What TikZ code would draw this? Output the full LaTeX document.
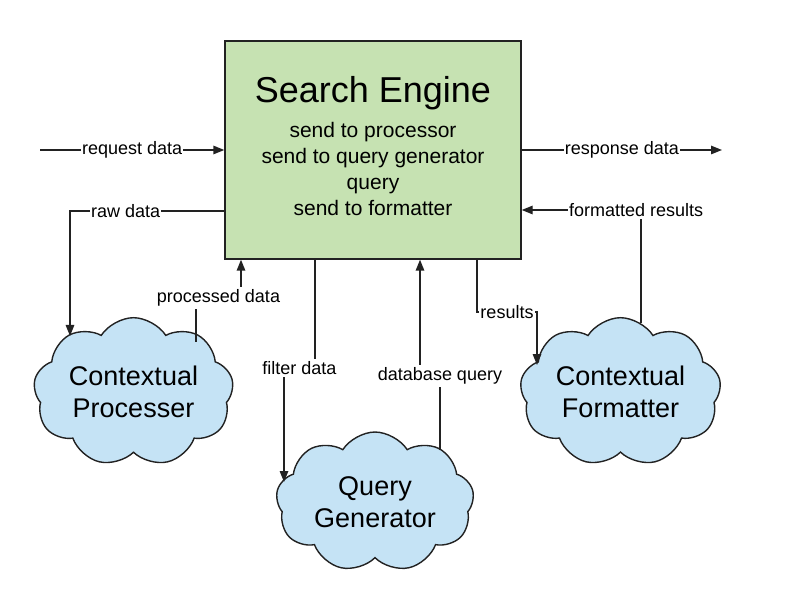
\documentclass[tikz,border=0pt]{standalone}
\usepackage{fontspec}
\setmainfont{Liberation Sans}
\usetikzlibrary{shapes.symbols,arrows.meta}
\definecolor{segreen}{HTML}{C6E2B2}
\definecolor{cloudblue}{HTML}{C5E3F5}
\definecolor{linegray}{HTML}{222222}
\begin{document}
\begin{tikzpicture}[x=1pt,y=-1pt,
  conn/.style={line width=1.4pt, draw=linegray},
  arr/.style={conn,-{Triangle[length=11pt,width=8.5pt]}},
  lbl/.style={fill=white, inner xsep=1pt, inner ysep=2.5pt, text=black, font=\fontsize{18}{20}\selectfont},
  cloudnode/.style={cloud, cloud puffs=9, cloud puff arc=115, aspect=1.5, draw=linegray, line width=1.4pt, fill=cloudblue, align=center, font=\fontsize{27}{32}\selectfont, inner sep=0pt}
]
\useasboundingbox (0,0) rectangle (800,609);
\fill[white] (0,0) rectangle (800,609);

% main box
\node[draw=linegray, line width=1.4pt, fill=segreen, minimum width=296pt, minimum height=218pt, inner sep=0pt] (se) at (373,150) {};
\node[font=\fontsize{36}{40}\selectfont] (title) at (373,93) {Search Engine};
\node[align=center, font=\fontsize{21}{25.7}\selectfont] (body) at (373,169) {send to processor\\send to query generator\\query\\send to formatter};

% clouds
\node[cloudnode, minimum width=200pt, minimum height=130pt] (cp) at (133.5,392) {Contextual\\Processer};
\node[cloudnode, minimum width=198pt, minimum height=130pt] (qg) at (375,502) {Query\\Generator};
\node[cloudnode, minimum width=201pt, minimum height=130pt] (cf) at (620.5,392) {Contextual\\Formatter};

% attach points
\coordinate (reqin) at (40,150);
\coordinate (respout) at (722,150);
\coordinate (cpin) at (70,336);
\coordinate (cpout) at (196,342);
\coordinate (qgin) at (284,482);
\coordinate (qgout) at (440,450);
\coordinate (cfin) at (537,365);
\coordinate (cfout) at (641,323);

% connectors
\draw[arr] (reqin) -- node[lbl]{request data} (se.west |- reqin);
\draw[arr] (se.east |- respout) -- node[lbl]{response data} (respout);
\draw[arr] (se.west |- 0,211) -| node[lbl, pos=0.32]{raw data} (cpin);
\draw[arr] (cpout) |- node[lbl, pos=0.75]{processed data} (241,298) -- (se.south -| 241,0);
\draw[arr] (se.south -| 315,0) |- node[lbl, pos=0.75]{filter data} (284,368) -- (qgin);
\draw[arr] (qgout) |- node[lbl, pos=0.5]{database query} (420,376) -- (se.south -| 420,0);
\draw[arr] (se.south -| 477,0) |- node[lbl, pos=0.75]{results} (537,312) -- (cfin);
\draw[arr] (cfout) |- node[lbl, pos=0.52]{formatted results} (se.east |- 0,210);
\end{tikzpicture}
\end{document}
